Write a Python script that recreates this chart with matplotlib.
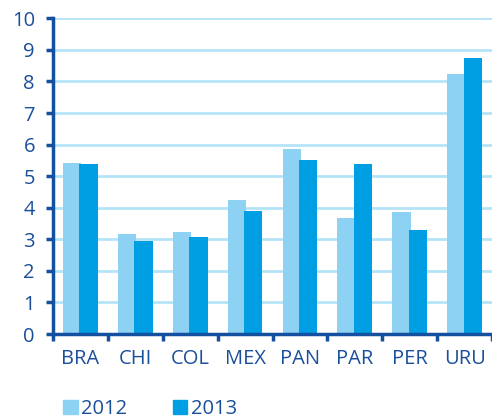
import matplotlib
matplotlib.use("Agg")
import matplotlib.pyplot as plt
from matplotlib.patches import Patch
import numpy as np

categories = ["BRA", "CHI", "COL", "MEX", "PAN", "PAR", "PER", "URU"]
values_2012 = [5.41, 3.16, 3.24, 4.26, 5.86, 3.67, 3.85, 8.23]
values_2013 = [5.40, 2.96, 3.07, 3.89, 5.50, 5.39, 3.29, 8.73]
series_labels = ["2012", "2013"]
yticks = list(range(0, 11))

c_light = "#8DD1F3"
c_dark = "#009FE3"
c_axis = "#1450A0"
c_grid = "#B5E4F8"
c_text = "#1A4F9C"

plt.rcParams['font.family'] = ['Open Sans', 'DejaVu Sans']
plt.rcParams['font.weight'] = 'medium'

fig = plt.figure(figsize=(4.92, 4.19), dpi=100)
ax = fig.add_axes([53/492, (419-334)/419, 1 - 53/492, (334-18.3)/419])

x = np.arange(len(categories)) + 0.5
w = 0.335
off = 0.15
ax.bar(x - off, values_2012, width=w, color=c_light, zorder=3, linewidth=0)
ax.bar(x + off, values_2013, width=w, color=c_dark, zorder=4, linewidth=0)

ax.set_xlim(0, len(categories))
ax.set_ylim(0, 10)
ax.set_yticks(yticks)
ax.set_yticklabels([str(t) for t in yticks])
ax.set_xticks(np.arange(len(categories) + 1))
ax.set_xticklabels([])
ax.set_xticks(x, minor=True)
ax.set_xticklabels(categories, minor=True)

ax.yaxis.grid(True, color=c_grid, linewidth=2, zorder=1)
ax.set_axisbelow(True)
for s in ["top", "right"]:
    ax.spines[s].set_visible(False)
for s in ["left", "bottom"]:
    ax.spines[s].set_color(c_axis)
    ax.spines[s].set_linewidth(2.5)
    ax.spines[s].set_zorder(5)

ax.tick_params(axis='y', which='major', length=5, width=2.5, color=c_axis,
               labelcolor=c_text, labelsize=14.5, pad=8)
ax.tick_params(axis='x', which='major', length=5, width=2.5, color=c_axis)
ax.tick_params(axis='x', which='minor', length=0, labelcolor=c_text,
               labelsize=14.5, pad=11)

handles = [Patch(color=c_light), Patch(color=c_dark)]
fig.legend(handles, series_labels, loc='lower left',
           bbox_to_anchor=(59/492, -4/419), ncol=2, frameon=False,
           fontsize=14.5, labelcolor=c_text, handlelength=0.72, handleheight=0.72,
           handletextpad=0.15, columnspacing=2.3, borderaxespad=0.0,
           borderpad=0.2)

fig.savefig("out.png", dpi=100)
